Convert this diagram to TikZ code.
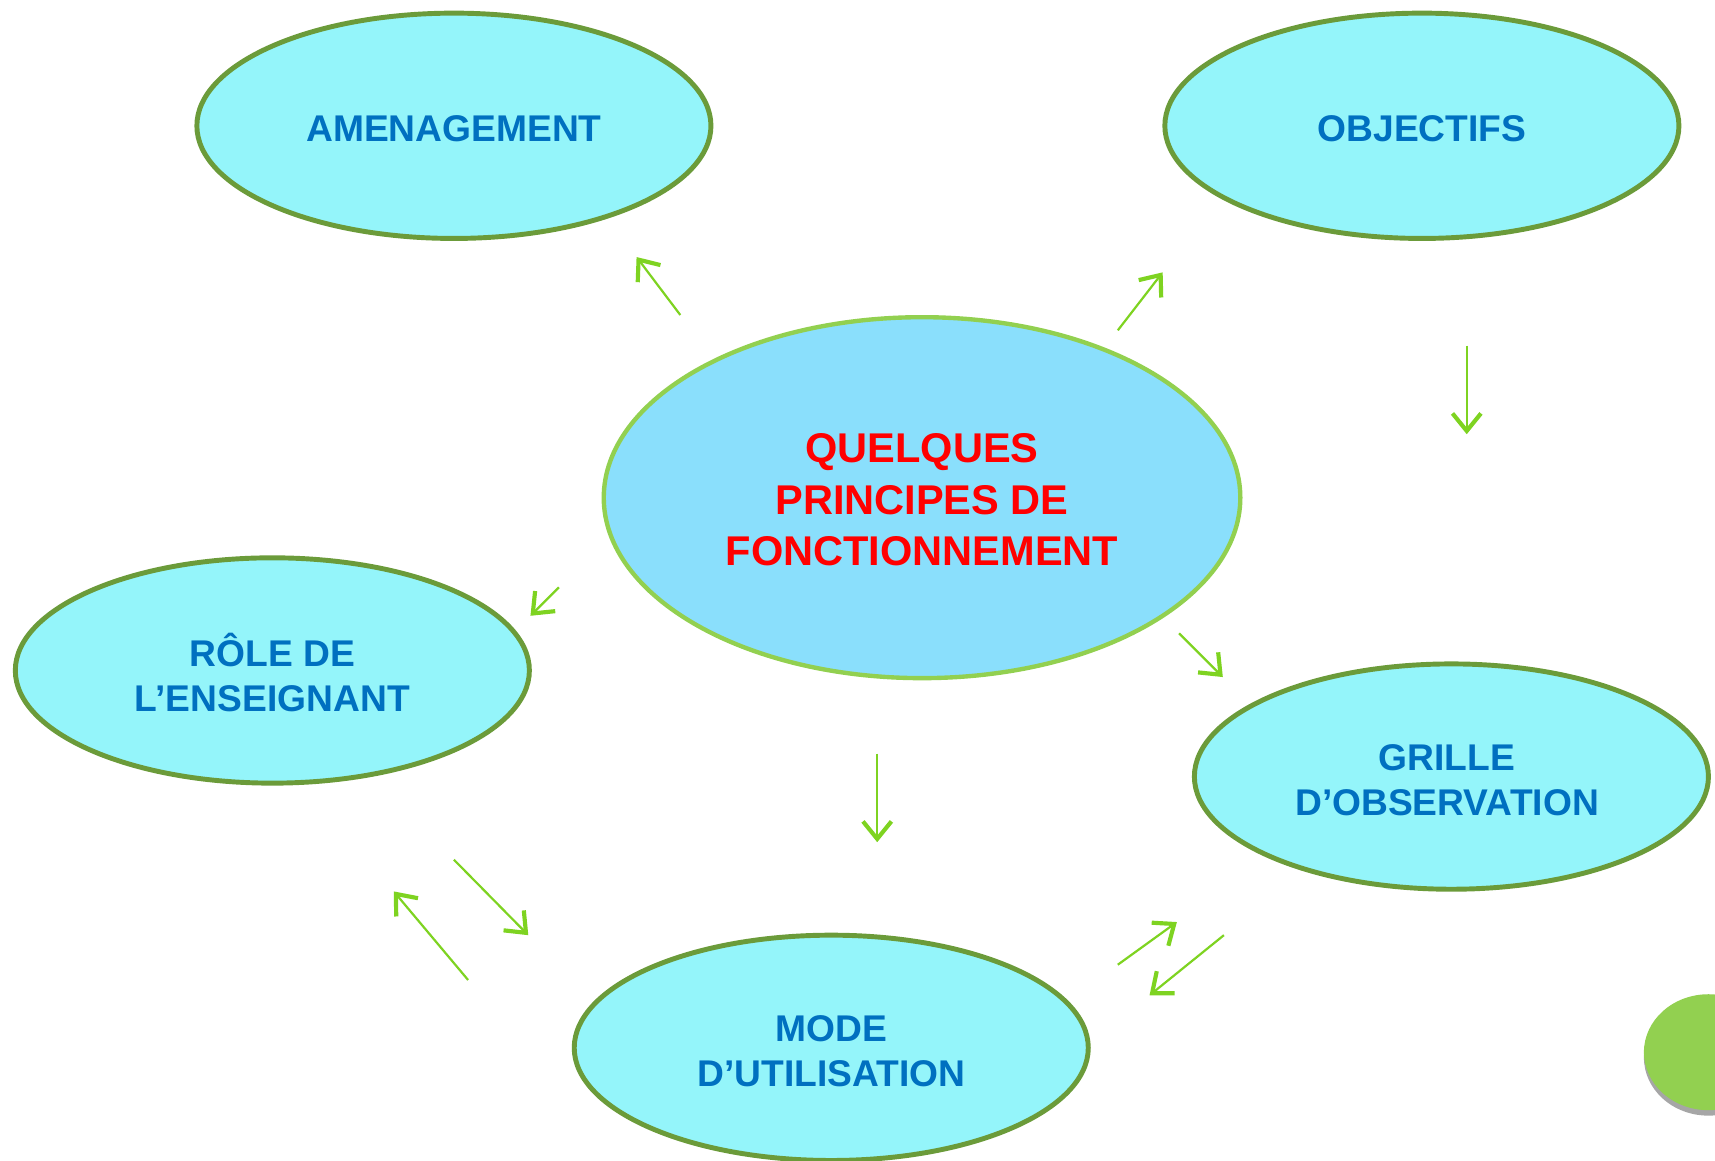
\documentclass[tikz,border=0pt]{standalone}
\usepackage{fontspec}
\setmainfont{Liberation Sans}
\usetikzlibrary{shapes.geometric,arrows.meta}
\definecolor{cyanfill}{HTML}{94F5FA}
\definecolor{centerfill}{HTML}{8ADFFC}
\definecolor{olive}{HTML}{6B9B3A}
\definecolor{lightgreen}{HTML}{92D050}
\definecolor{arrowgreen}{HTML}{7ED321}
\definecolor{textblue}{HTML}{0070C0}
\definecolor{textred}{HTML}{FF0000}
\tikzset{
  topic/.style={ellipse, draw=olive, line width=4.5pt, fill=cyanfill, inner sep=0pt,
    minimum width=470, minimum height=206},
  topictext/.style={align=center, text=textblue, inner sep=0pt,
    font=\bfseries\fontsize{34}{41}\selectfont},
  core/.style={ellipse, draw=lightgreen, line width=4pt, fill=centerfill, inner sep=0pt,
    minimum width=582, minimum height=330},
  coretext/.style={align=center, text=textred, inner sep=0pt,
    font=\bfseries\fontsize{38}{47}\selectfont},
  flow/.style={draw=arrowgreen, line width=2pt,
    -{Straight Barb[length=16, width=26, line width=3.8pt]}}
}
\begin{document}
\begin{tikzpicture}[x=1pt,y=-1pt]
\useasboundingbox (0,0) rectangle (1568,1061);
% shapes
\node[topic] (amen) at (415,115) {};
\node[topic] (obj) at (1300,115) {};
\node[core] (core) at (843,455) {};
\node[topic] (role) at (249,613) {};
\node[topic] (grille) at (1327,710) {};
\node[topic] (mode) at (760,958) {};
% texts
\node[topictext] (amenT) at ([yshift=-3pt]amen.center) {AMENAGEMENT};
\node[topictext] (objT) at ([yshift=-3pt]obj.center) {OBJECTIFS};
\node[coretext] (coreT) at ([yshift=-2pt]core.center) {QUELQUES\\PRINCIPES DE\\FONCTIONNEMENT};
\node[topictext] (roleT) at ([yshift=-2pt]role.center) {RÔLE DE\\L’ENSEIGNANT};
\node[topictext] (grilleT) at ([xshift=-4pt,yshift=-3pt]grille.center) {GRILLE\\D’OBSERVATION};
\node[topictext] (modeT) at ([yshift=-3pt]mode.center) {MODE\\D’UTILISATION};
% decorative circle
\fill[gray!70] (1562,967) ellipse [x radius=59, y radius=53];
\fill[lightgreen] (1562,962) ellipse [x radius=59, y radius=53];
% arrow end points
\coordinate (a1s) at (622,288); \coordinate (a1e) at (582,235);
\coordinate (a2s) at (1022,302); \coordinate (a2e) at (1063,249);
\coordinate (a3s) at (1341,316); \coordinate (a3e) at (1341,397);
\coordinate (a4s) at (511,537); \coordinate (a4e) at (485,563);
\coordinate (a5s) at (1078,579); \coordinate (a5e) at (1118,619);
\coordinate (a6s) at (802,689); \coordinate (a6e) at (802,770);
\coordinate (a7s) at (415,786); \coordinate (a7e) at (483,855);
\coordinate (a8s) at (428,896); \coordinate (a8e) at (360,815);
\coordinate (a9s) at (1022,882); \coordinate (a9e) at (1076,843);
\coordinate (a10s) at (1119,855); \coordinate (a10e) at (1051,910);
\foreach \i in {1,...,10} {\draw[flow] (a\i s) -- (a\i e);}
\end{tikzpicture}
\end{document}
